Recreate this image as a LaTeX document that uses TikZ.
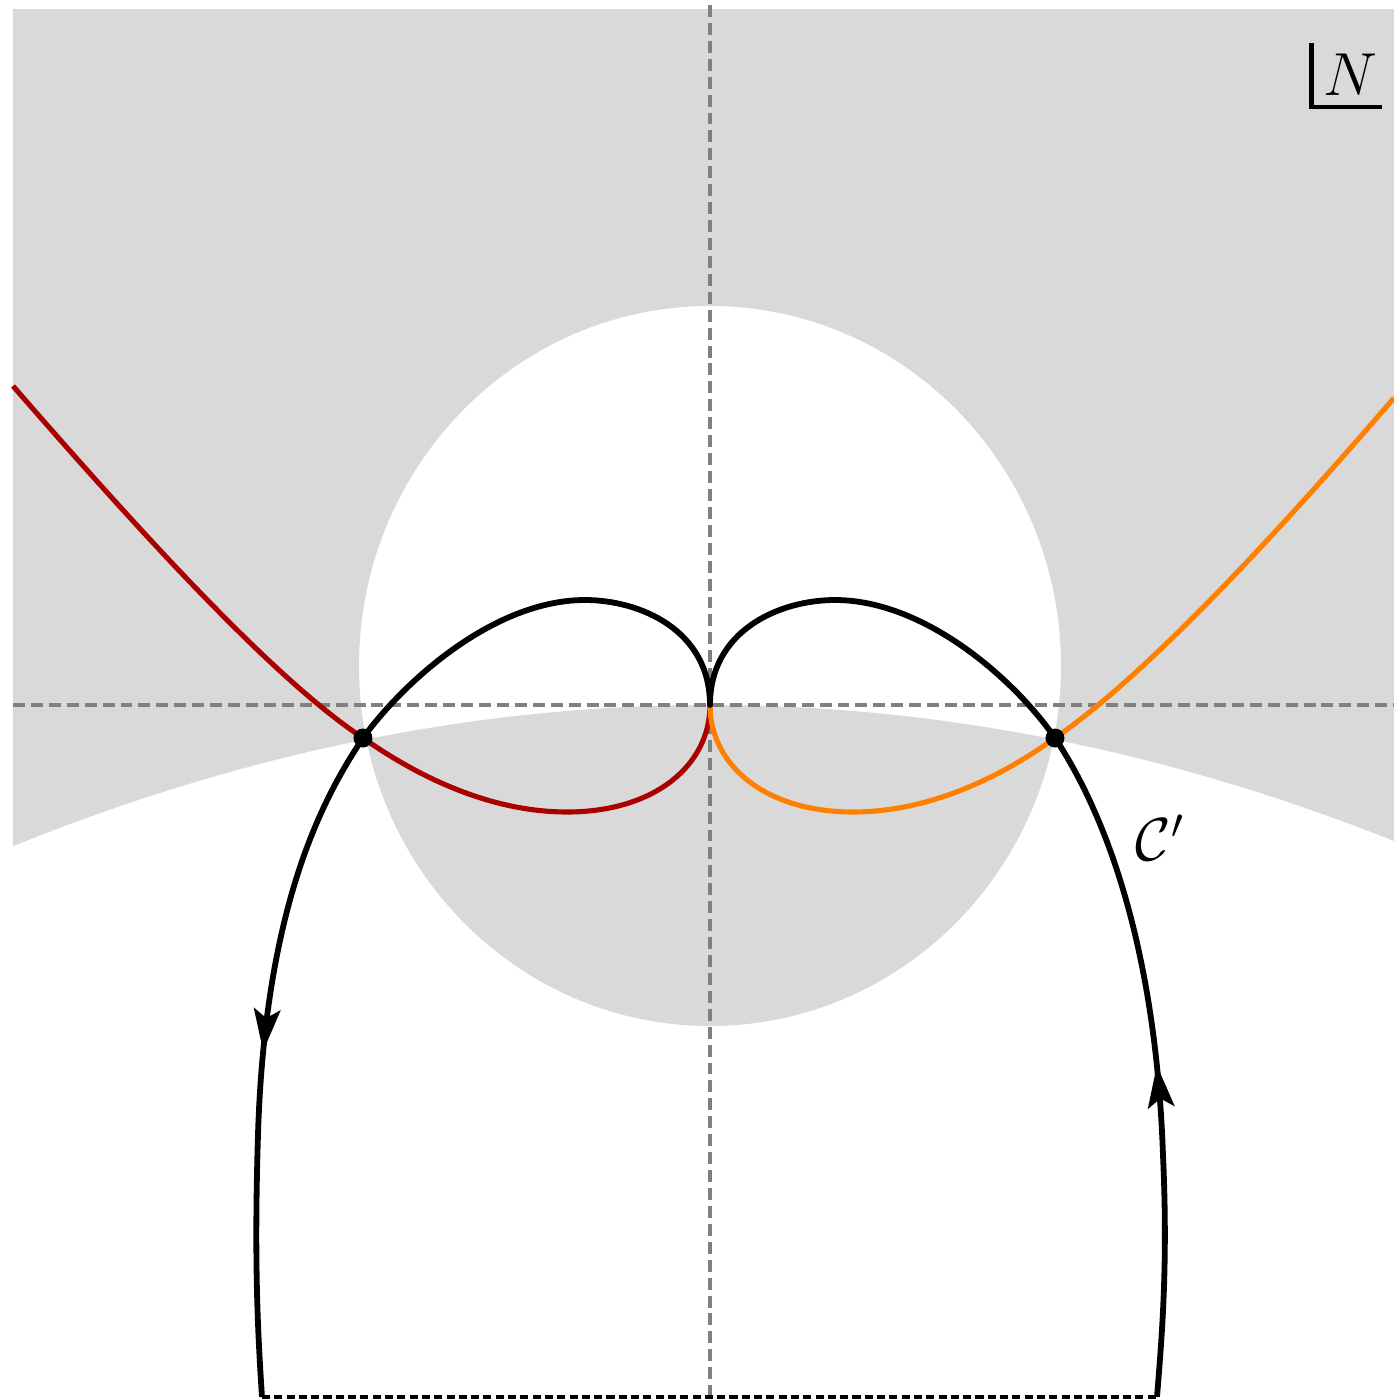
\documentclass[tikz,border=0pt]{standalone}
\usepackage{xcolor}
\usepackage{tikz}
\usepackage{amssymb}
\usepackage{amsmath}
\usetikzlibrary{arrows.meta, decorations.markings, calc}
\definecolor{sheetgray}{HTML}{D9D9D9}
\definecolor{axisgray}{HTML}{808080}
\definecolor{flowred}{HTML}{AA0000}
\definecolor{floworange}{HTML}{FF8000}

\begin{document}
\begin{tikzpicture}[
  axis/.style={axisgray, line width=1.2pt, dash pattern=on 3.4pt off 1.7pt},
  contour/.style={black, line width=1.65pt, line join=round},
  midarrow/.style={postaction={decorate}, decoration={markings, mark=at position #1 with {\arrow{Stealth[length=12pt, width=7.5pt, inset=2.5pt]}}}},
  flow/.style={line width=1.45pt},
  crossdot/.style={circle, fill=black, inner sep=0pt, minimum size=0.19cm},
  closing/.style={black, line width=1.3pt, dash pattern=on 2.3pt off 1.2pt},
  tag/.style={font=\LARGE}
]
\useasboundingbox (-7.10,-6.94) rectangle (6.84,7.05);
\fill[sheetgray, even odd rule] (-6.97,6.96) -- plot[domain=-6.97:6.84, samples=80] (\x,{-0.02907*\x*\x}) -- (6.84,6.96) -- cycle
  (0,0.39) ellipse[x radius=3.51, y radius=3.6];

\coordinate (o) at (0,0);
\coordinate (pl) at (-3.47,-0.33);
\coordinate (pr) at (3.45,-0.33);
\coordinate (bl) at (-4.48,-6.92);
\coordinate (br) at (4.47,-6.92);

\draw[axis] (-6.97,0) -- (6.84,0);
\draw[axis] (0,7.0) -- (0,-6.94);

\draw[flow, flowred] (-6.97,3.19) .. controls (-5.5,1.5) and (-4.3,0.22) .. (pl) .. controls (-2.8,-0.8) and (-2.1,-1.07) .. (-1.43,-1.07) .. controls (-0.55,-1.07) and (0,-0.6) .. (o);
\draw[flow, floworange] (o) .. controls (0,-0.6) and (0.55,-1.07) .. (1.43,-1.07) .. controls (2.1,-1.07) and (2.8,-0.8) .. (pr) .. controls (4.25,0.22) and (5.4,1.4) .. (6.84,3.07);

\draw[contour, midarrow=0.49] (br) .. controls (4.52,-6.3) and (4.58,-5.6) .. (4.53,-4.5) .. controls (4.45,-2.2) and (3.85,-0.93) .. (pr);
\draw[contour] (pr) .. controls (3.05,0.25) and (2.15,1.05) .. (1.25,1.05) .. controls (0.7,1.05) and (0,0.75) .. (o) .. controls (0,0.75) and (-0.7,1.05) .. (-1.25,1.05) .. controls (-2.15,1.05) and (-3.05,0.25) .. (pl);
\draw[contour, midarrow=0.49] (pl) .. controls (-3.87,-0.93) and (-4.45,-2.0) .. (-4.52,-4.3) .. controls (-4.56,-5.6) and (-4.52,-6.3) .. (bl);
\draw[closing] (bl) -- (br);

\node[crossdot] (dl) at (pl) {};
\node[crossdot] (dr) at (pr) {};

\node[tag] (clabel) at (4.50,-1.33) {$\mathcal{C}'$};
\node[tag, inner sep=3pt] (nlabel) at (6.40,6.30) {$N$};
\draw[line width=1.3pt] (nlabel.north west) |- ($(nlabel.south east)+(-0.06,0)$);
\end{tikzpicture}
\end{document}
